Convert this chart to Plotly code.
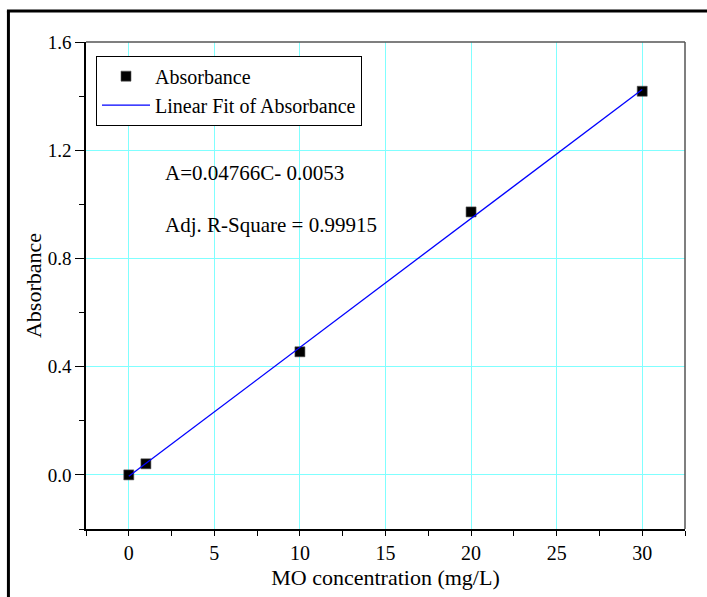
import plotly.graph_objects as go

# Calibration data: methyl orange concentration vs absorbance
concentration = [0, 1, 10, 20, 30]
absorbance = [0.0, 0.041, 0.455, 0.972, 1.418]

# Linear fit parameters
slope = 0.04766
intercept = -0.0053
fit_x = [0, 30]
fit_y = [slope * c + intercept for c in fit_x]

x_ticks = [0, 5, 10, 15, 20, 25, 30]
y_ticks = [0.0, 0.4, 0.8, 1.2, 1.6]

FONT = "Liberation Serif"
GRID = "rgb(128,255,255)"

fig = go.Figure()
fig.add_trace(go.Scatter(
    x=concentration, y=absorbance, mode="markers", name="Absorbance",
    marker=dict(symbol="square", size=10, color="black",
                line=dict(width=0.6, color="#555")),
))
fig.add_trace(go.Scatter(
    x=fit_x, y=fit_y, mode="lines", name="Linear Fit of Absorbance",
    line=dict(color="#0000ff", width=1.3),
))

fig.update_layout(
    width=707, height=597,
    margin=dict(l=86, r=22, t=42, b=68),
    paper_bgcolor="white", plot_bgcolor="white",
    font=dict(family=FONT, color="black", size=19),
    showlegend=True,
    legend=dict(
        x=0.0167, y=0.972, xanchor="left", yanchor="top",
        bgcolor="white", bordercolor="black", borderwidth=1,
        font=dict(family=FONT, size=20, color="black"),
        itemwidth=48, tracegroupgap=0,
    ),
    xaxis=dict(
        range=[-2.5, 32.5], tickvals=x_ticks,
        showline=True, linecolor="black", linewidth=1.5,
        ticks="outside", ticklen=5, tickwidth=1.2, tickcolor="black",
        minor=dict(dtick=2.5, tick0=0, ticks="outside", ticklen=5,
                   tickwidth=1.2, tickcolor="black", showgrid=False),
        showgrid=True, gridcolor=GRID, gridwidth=1,
        zeroline=False,
        tickfont=dict(family=FONT, size=20),
        title=dict(text="MO concentration (mg/L)",
                   font=dict(family=FONT, size=22), standoff=7),
    ),
    yaxis=dict(
        range=[-0.2, 1.6], tickvals=y_ticks, tickformat=".1f",
        showline=True, linecolor="black", linewidth=1.5,
        ticks="outside", ticklen=9, tickwidth=1.2, tickcolor="black",
        minor=dict(dtick=0.2, tick0=0, ticks="outside", ticklen=5,
                   tickwidth=1.2, tickcolor="black", showgrid=False),
        showgrid=True, gridcolor=GRID, gridwidth=1,
        zeroline=False,
        tickfont=dict(family=FONT, size=19),
        title=dict(text="Absorbance",
                   font=dict(family=FONT, size=22), standoff=0),
    ),
)

# Gray top and right plot borders
fig.add_shape(type="line", xref="paper", yref="paper", x0=0, x1=1, y0=1, y1=1,
              line=dict(color="#555", width=1.5))
fig.add_shape(type="line", xref="paper", yref="paper", x0=1, x1=1, y0=0, y1=1,
              line=dict(color="#555", width=1.5))

# Outer frame (left and top edges)
fig.add_shape(type="line", xref="paper", yref="paper",
              x0=-0.1295, x1=-0.1295, y0=1.0637, y1=-0.2,
              line=dict(color="black", width=3))
fig.add_shape(type="line", xref="paper", yref="paper",
              x0=-0.132, x1=1.1, y0=1.0637, y1=1.0637,
              line=dict(color="black", width=3))

fig.add_annotation(text="A=0.04766C- 0.0053", xref="paper", yref="paper",
                   x=0.129, y=0.731, xanchor="left", yanchor="middle",
                   showarrow=False, font=dict(family=FONT, size=21))
fig.add_annotation(text="Adj. R-Square = 0.99915", xref="paper", yref="paper",
                   x=0.129, y=0.624, xanchor="left", yanchor="middle",
                   showarrow=False, font=dict(family=FONT, size=21))

fig.write_html("out.html")
